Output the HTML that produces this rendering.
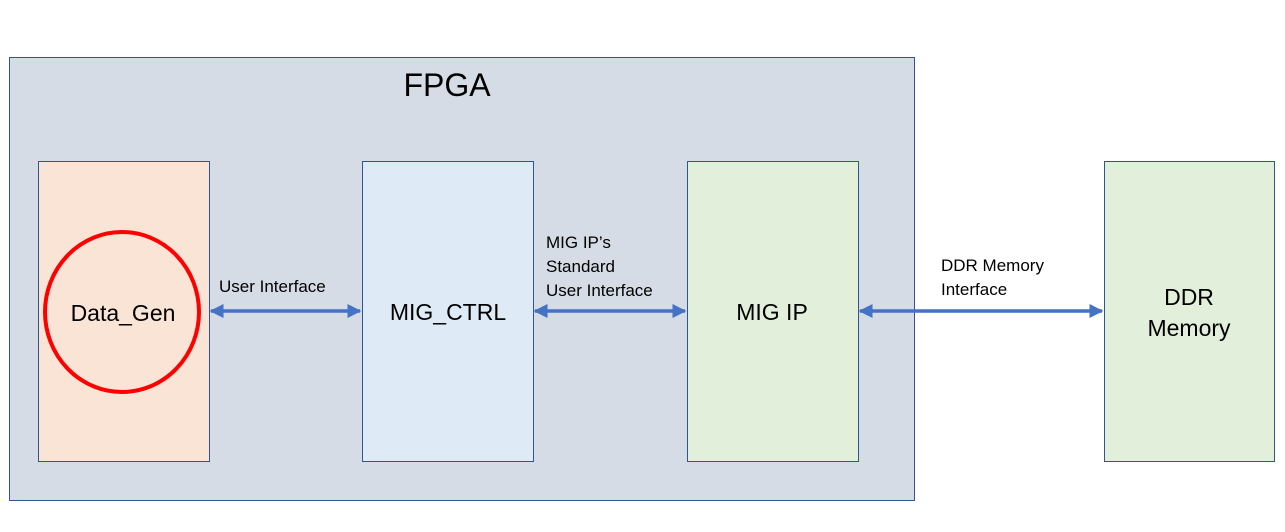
<!DOCTYPE html>
<html><head><style>body{margin:0;background:#fff}svg{display:block}text{font-family:"Liberation Sans","Noto Sans CJK KR",sans-serif;fill:#000}</style></head><body>
<svg width="1285" height="532" viewBox="0 0 1285 532">
<defs><marker id="a" viewBox="0 0 10 10" refX="9" refY="5" markerWidth="4" markerHeight="4" orient="auto-start-reverse"><path d="M0,0L10,5L0,10z" fill="#4472c4"/></marker></defs>
<rect x="9.5" y="57.5" width="905" height="443" fill="#d5dce6" stroke="#2f5597"/>
<text x="447" y="96" font-size="32" text-anchor="middle">FPGA</text>
<rect x="38.5" y="161.5" width="171" height="300" fill="#fae4d6" stroke="#2f5597"/>
<rect x="362.5" y="161.5" width="171" height="300" fill="#deeaf6" stroke="#2f5597"/>
<rect x="687.5" y="161.5" width="171" height="300" fill="#e2efda" stroke="#2f5597"/>
<rect x="1104.5" y="161.5" width="170" height="300" fill="#e2efda" stroke="#2f5597"/>
<ellipse cx="122" cy="312" rx="77" ry="80" fill="none" stroke="#f00" stroke-width="4"/>
<text x="123" y="321" font-size="23" text-anchor="middle">Data_Gen</text>
<text x="448" y="320" font-size="23" text-anchor="middle">MIG_CTRL</text>
<text x="772" y="320" font-size="23" text-anchor="middle">MIG IP</text>
<text x="1189" y="305" font-size="23" text-anchor="middle">DDR</text>
<text x="1189" y="336" font-size="23" text-anchor="middle">Memory</text>
<g stroke="#4472c4" stroke-width="3.5" marker-start="url(#a)" marker-end="url(#a)">
<line x1="211" y1="311" x2="360" y2="311"/>
<line x1="535" y1="311" x2="685" y2="311"/>
<line x1="860" y1="311" x2="1102" y2="311"/>
</g>
<g font-size="17">
<text x="219" y="292">User Interface</text>
<text x="546" y="248">MIG IP’s</text>
<text x="546" y="272">Standard</text>
<text x="546" y="296">User Interface</text>
<text x="941" y="271">DDR Memory</text>
<text x="941" y="295">Interface</text>
</g>
</svg>
</body></html>
